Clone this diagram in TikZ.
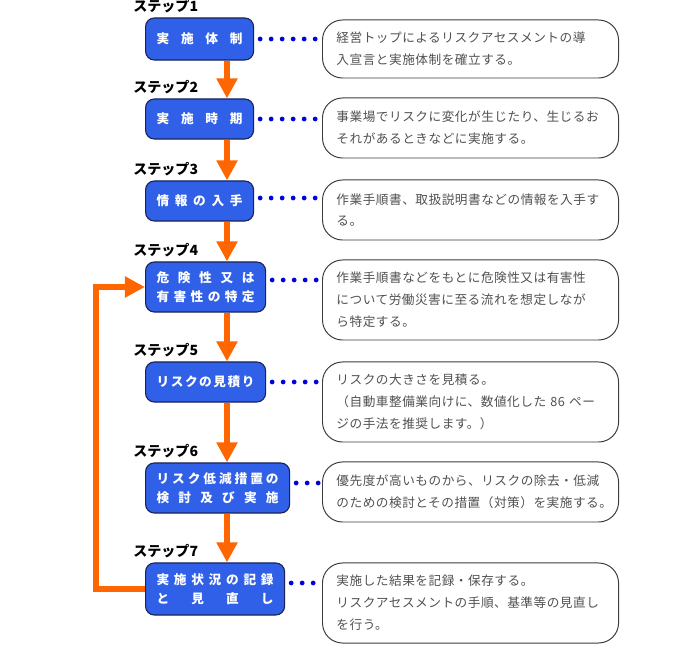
\documentclass[tikz,border=0pt]{standalone}
\usepackage{fontspec}
\setmainfont{Noto Sans CJK JP}
\newfontfamily\notefont[LetterSpace=4]{Noto Sans CJK JP}
\usetikzlibrary{positioning, arrows.meta}
\definecolor{stepblue}{RGB}{48,96,232}
\definecolor{navy}{RGB}{25,35,90}
\definecolor{flowor}{RGB}{255,102,0}
\definecolor{dotblue}{RGB}{0,0,220}
\definecolor{notegray}{RGB}{60,60,60}
\definecolor{notetext}{RGB}{80,80,80}
\tikzstyle{stepbox} = [rectangle, rounded corners=0.22cm, draw=navy, line width=0.8pt, fill=stepblue, text=white, font=\fontsize{9}{13.5}\selectfont\bfseries, inner xsep=0.275cm, inner ysep=0pt, align=center, anchor=west]
\tikzstyle{steplabel} = [inner sep=0pt, font=\fontsize{10}{10}\selectfont\bfseries]
\tikzstyle{note} = [rectangle, rounded corners=0.5cm, draw=notegray, line width=0.7pt, text=notetext, font=\notefont\fontsize{9}{15.5}\selectfont, text width=6.7cm, inner xsep=0.35cm, align=left, anchor=west]
\tikzstyle{flow} = [line width=0.15cm, draw=flowor, -{Triangle[width=0.5cm,length=0.5cm]}]
\tikzstyle{dots} = [draw=dotblue, line width=0.12cm, line cap=round, dash pattern=on 0pt off 0.275cm, shorten <=0.15cm, shorten >=0.05cm]

\begin{document}
\begin{tikzpicture}[x=0.025cm, y=-0.025cm]
        \useasboundingbox (0,0) rectangle (700,649);

            \node (s1) [stepbox, text width=2.15cm, minimum height=1.05cm] at (145,39) {\makebox[\linewidth][s]{実\hfill 施\hfill 体\hfill 制}};

            \node (s2) [stepbox, text width=2.15cm, minimum height=1.0cm] at (145,119) {\makebox[\linewidth][s]{実\hfill 施\hfill 時\hfill 期}};

            \node (s3) [stepbox, text width=2.15cm, minimum height=1.0cm] at (145,201) {\makebox[\linewidth][s]{情\hfill 報\hfill の\hfill 入\hfill 手}};

            \node (s4) [stepbox, text width=2.45cm, minimum height=1.25cm] at (145,287) {\makebox[\linewidth][s]{危\hfill 険\hfill 性\hfill 又\hfill は}\\ \makebox[\linewidth][s]{有\hfill 害\hfill 性\hfill の\hfill 特\hfill 定}};

            \node (s5) [stepbox, text width=2.45cm, minimum height=1.0cm] at (145,382) {\makebox[\linewidth][s]{リ\hfill ス\hfill ク\hfill の\hfill 見\hfill 積\hfill り}};

            \node (s6) [stepbox, text width=3.05cm, minimum height=1.25cm] at (145,488) {\makebox[\linewidth][s]{リ\hfill ス\hfill ク\hfill 低\hfill 減\hfill 措\hfill 置\hfill の}\\ \makebox[\linewidth][s]{検\hfill 討\hfill 及\hfill び\hfill 実\hfill 施}};

            \node (s7) [stepbox, text width=2.925cm, minimum height=1.3cm] at (145,589) {\makebox[\linewidth][s]{実\hfill 施\hfill 状\hfill 況\hfill の\hfill 記\hfill 録}\\ \makebox[\linewidth][s]{と\hfill 見\hfill 直\hfill し}};

            \node (l1) [steplabel, above right=0.1cm and -0.3cm of s1.north west] {ステップ1};
            \node (l2) [steplabel, above right=0.1cm and -0.3cm of s2.north west] {ステップ2};
            \node (l3) [steplabel, above right=0.1cm and -0.3cm of s3.north west] {ステップ3};
            \node (l4) [steplabel, above right=0.1cm and -0.3cm of s4.north west] {ステップ4};
            \node (l5) [steplabel, above right=0.1cm and -0.3cm of s5.north west] {ステップ5};
            \node (l6) [steplabel, above right=0.1cm and -0.3cm of s6.north west] {ステップ6};
            \node (l7) [steplabel, above right=0.1cm and -0.3cm of s7.north west] {ステップ7};

            \node (n1) [note, minimum height=1.45cm] at (322,49) {経営トップによるリスクアセスメントの導\\入宣言と実施体制を確立する。};

            \node (n2) [note, minimum height=1.5cm] at (322,128) {事業場でリスクに変化が生じたり、生じるお\\それがあるときなどに実施する。};

            \node (n3) [note, minimum height=1.5cm] at (322,210) {作業手順書、取扱説明書などの情報を入手す\\る。};

            \node (n4) [note, minimum height=2.0cm] at (322,300) {作業手順書などをもとに危険性又は有害性\\について労働災害に至る流れを想定しなが\\ら特定する。};

            \node (n5) [note, minimum height=2.0cm] at (322,402) {リスクの大きさを見積る。\\（自動車整備業向けに、数値化した 86 ペー\\ジの手法を推奨します。）};

            \node (n6) [note, minimum height=1.5cm] at (322,492) {優先度が高いものから、リスクの除去・低減\\のための検討とその措置（対策）を実施する。};

            \node (n7) [note, minimum height=2.0cm] at (322,603) {実施した結果を記録・保存する。\\リスクアセスメントの手順、基準等の見直し\\を行う。};

            \coordinate (axis) at (227,0);
            \coordinate (back) at (96,0);
            \coordinate[yshift=0.075cm] (d3) at (s3.east);
            \coordinate[yshift=0.175cm] (d4) at (s4.east);
            \coordinate[yshift=0.125cm] (d6) at (s6.east);
            \coordinate[yshift=0.15cm] (d7) at (s7.east);

            \draw [flow] (s1.south -| axis) -- (s2.north -| axis);
            \draw [flow] (s2.south -| axis) -- (s3.north -| axis);
            \draw [flow] (s3.south -| axis) -- (s4.north -| axis);
            \draw [flow] (s4.south -| axis) -- (s5.north -| axis);
            \draw [flow] (s5.south -| axis) -- (s6.north -| axis);
            \draw [flow] (s6.south -| axis) -- (s7.north -| axis);
            \draw [flow] (s7.west) -- (s7.west -| back) -- (s4.west -| back) -- (s4.west);

            \draw [dots] (s1.east) -- (s1.east -| n1.west);
            \draw [dots] (s2.east) -- (s2.east -| n2.west);
            \draw [dots] (d3) -- (d3 -| n3.west);
            \draw [dots] (d4) -- (d4 -| n4.west);
            \draw [dots] (s5.east) -- (s5.east -| n5.west);
            \draw [dots] (d6) -- (d6 -| n6.west);
            \draw [dots] (d7) -- (d7 -| n7.west);

        \end{tikzpicture}
\end{document}
